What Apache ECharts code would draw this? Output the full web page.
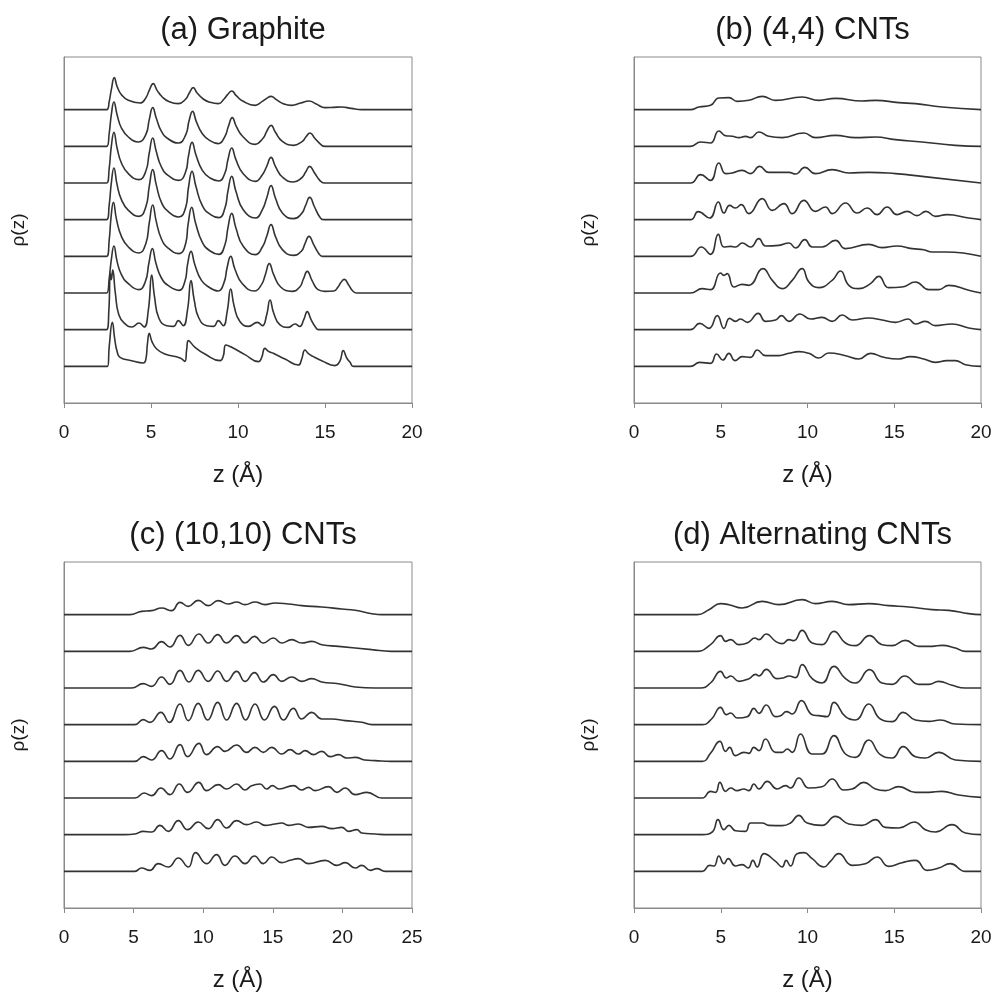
<!DOCTYPE html>
<html><head><meta charset="utf-8">
<script src="https://cdn.jsdelivr.net/npm/echarts@6/dist/echarts.min.js"></script>
<style>html,body{margin:0;padding:0;background:#fff}#c{width:997px;height:993px}</style>
</head><body><div id="c"></div>
<script>
// ---- Panel titles / axis labels ----
const panelTitles = ['(a) Graphite', '(b) (4,4) CNTs', '(c) (10,10) CNTs', '(d) Alternating CNTs'];
const xMaxes = [20, 20, 25, 20];
const xName = 'z (Å)';
const yName = 'ρ(z)';
// vertical offset between stacked profiles (arbitrary units of ρ)
const stackStep = 110;

// ---- (a) Graphite: 8 profiles, bottom (1) to top (8); [z (Å), ρ (a.u.)] ----
const graphite1 = [[0,0],[2.5,0],[2.6,60],[2.78,132],[2.92,80],[3.05,45],[3.22,27],[3.89,17],[4.56,10],[4.7,20],[4.8,70],[4.9,99],[5.05,75],[5.33,52],[5.8,37],[6.67,25],[6.95,15],[7.05,50],[7.15,77],[7.53,57],[8.1,37],[8.97,17],[9.15,30],[9.31,64],[9.64,57],[10.4,35],[11.17,14],[11.35,25],[11.55,54],[11.75,45],[12.03,39],[12.7,22],[13.47,4],[13.65,20],[13.85,49],[14.05,38],[14.33,29],[14.81,17],[15.57,2],[15.85,15],[16.05,47],[16.25,25],[16.44,12],[16.63,0],[20,0]];
const graphite2 = [[0,0],[2.45,0],[2.58,60],[2.66,170],[2.72,150],[2.8,179],[2.95,110],[3.15,45],[3.5,18],[3.9,8],[4.31,20],[4.6,8],[4.85,60],[5.04,164],[5.2,100],[5.45,35],[5.9,12],[6.3,10],[6.57,27],[6.85,12],[7.1,60],[7.3,147],[7.48,90],[7.75,35],[8.2,12],[8.6,10],[8.87,27],[9.15,12],[9.38,55],[9.58,122],[9.78,70],[10.1,25],[10.6,10],[11.11,22],[11.4,12],[11.65,45],[11.84,89],[12.05,50],[12.4,15],[12.9,7],[13.28,17],[13.55,10],[13.78,30],[13.98,54],[14.2,30],[14.45,8],[14.62,0],[20,0]];
const graphite3 = [[0,0],[2.45,0],[2.6,45],[2.72,100],[2.87,141],[3.05,95],[3.3,55],[3.7,28],[4.3,10],[4.68,35],[4.88,90],[5.08,133],[5.28,90],[5.6,45],[6.0,22],[6.6,8],[6.95,35],[7.1,85],[7.3,125],[7.52,85],[7.9,38],[8.4,15],[8.85,6],[9.2,32],[9.37,75],[9.58,110],[9.82,72],[10.25,28],[10.95,6],[11.35,25],[11.57,55],[11.8,88],[12.05,55],[12.45,18],[13.1,5],[13.55,18],[13.76,42],[13.98,65],[14.25,38],[14.6,10],[15.0,5],[15.5,6],[15.75,18],[15.92,32],[16.11,41],[16.35,25],[16.6,6],[16.82,0],[20,0]];
const graphite4 = [[0,0],[2.45,0],[2.6,50],[2.7,115],[2.84,162],[3.02,110],[3.3,60],[3.7,28],[4.3,10],[4.7,38],[4.9,100],[5.1,154],[5.3,105],[5.6,52],[6.0,24],[6.6,8],[7.0,40],[7.13,95],[7.34,147],[7.56,100],[7.95,42],[8.4,16],[8.9,6],[9.25,35],[9.42,85],[9.64,129],[9.88,85],[10.3,30],[11.0,5],[11.4,28],[11.65,60],[11.9,95],[12.15,60],[12.55,20],[13.18,3],[13.65,16],[13.85,38],[14.08,60],[14.35,35],[14.65,8],[14.85,0],[20,0]];
const graphite5 = [[0,0],[2.45,0],[2.6,45],[2.72,110],[2.87,155],[3.05,105],[3.3,60],[3.7,28],[4.3,10],[4.7,38],[4.9,100],[5.1,150],[5.3,105],[5.6,52],[6.0,24],[6.6,8],[7.0,38],[7.15,95],[7.36,145],[7.58,100],[7.95,42],[8.4,16],[8.9,6],[9.25,35],[9.42,85],[9.64,130],[9.88,85],[10.3,30],[11.0,5],[11.4,30],[11.65,65],[11.9,102],[12.15,65],[12.55,20],[13.18,3],[13.65,18],[13.88,42],[14.12,67],[14.4,38],[14.7,8],[14.9,0],[20,0]];
const graphite6 = [[0,0],[2.45,0],[2.6,45],[2.72,110],[2.87,152],[3.05,105],[3.3,60],[3.7,28],[4.3,10],[4.7,35],[4.9,90],[5.1,135],[5.3,95],[5.6,48],[6.0,22],[6.6,8],[7.0,35],[7.15,80],[7.36,122],[7.58,85],[7.95,38],[8.4,15],[8.9,6],[9.25,30],[9.42,70],[9.64,105],[9.88,70],[10.3,28],[11.0,5],[11.4,25],[11.65,50],[11.9,77],[12.15,50],[12.55,18],[13.18,3],[13.65,15],[13.88,32],[14.12,50],[14.4,30],[14.7,8],[14.95,0],[20,0]];
const graphite7 = [[0,0],[2.45,0],[2.6,40],[2.72,95],[2.87,133],[3.05,95],[3.3,55],[3.7,28],[4.27,13],[4.7,35],[4.9,80],[5.1,116],[5.3,85],[5.6,45],[6.0,22],[6.57,10],[7.0,35],[7.18,75],[7.39,105],[7.6,75],[7.95,38],[8.4,17],[8.87,8],[9.25,30],[9.45,60],[9.67,86],[9.9,60],[10.3,28],[10.98,6],[11.45,25],[11.65,45],[11.9,63],[12.15,42],[12.55,15],[13.18,3],[13.7,15],[13.9,28],[14.14,40],[14.4,25],[14.75,6],[15.0,0],[20,0]];
const graphite8 = [[0,0],[2.45,0],[2.6,25],[2.72,60],[2.89,96],[3.05,70],[3.3,45],[3.7,28],[4.37,20],[4.7,35],[4.9,58],[5.13,78],[5.35,58],[5.65,38],[6.0,25],[6.57,18],[7.0,32],[7.2,50],[7.43,66],[7.65,50],[8.0,32],[8.4,22],[8.87,18],[9.2,32],[9.4,45],[9.64,56],[9.9,42],[10.3,25],[10.98,13],[11.4,25],[11.65,34],[11.9,40],[12.2,30],[12.6,18],[13.08,13],[13.6,20],[14.08,26],[14.5,17],[15.0,6],[15.5,7],[15.96,8],[16.5,4],[17.1,0],[20,0]];

// ---- (b) (4,4) CNTs ----
const cnt44_1 = [[0,0],[3.26,0],[3.78,12],[4.41,9],[4.76,37],[5.12,19],[5.47,39],[5.82,17],[6.24,29],[6.72,27],[7.1,49],[7.58,32],[8.35,32],[8.93,39],[9.5,44],[10.08,39],[10.65,25],[11.23,40],[12.19,32],[12.96,22],[13.63,39],[14.4,27],[15.26,22],[15.93,29],[16.7,22],[17.37,12],[18.04,17],[18.52,17],[19.1,5],[20,0]];
const cnt44_2 = [[0,0],[3.26,0],[3.78,19],[4.32,4],[4.8,42],[5.18,4],[5.51,34],[5.85,25],[6.14,32],[6.53,22],[7.16,49],[7.58,25],[8.16,29],[8.5,42],[8.93,25],[9.56,47],[10.17,32],[10.84,37],[11.42,25],[12.0,44],[12.57,29],[13.53,35],[14.3,29],[15.07,22],[15.8,32],[16.22,17],[16.79,25],[17.37,12],[18.33,17],[19.29,5],[20,0]];
const cnt44_3 = [[0,0],[3.26,0],[3.93,13],[4.41,10],[4.99,60],[5.18,53],[5.37,58],[5.76,18],[6.24,26],[6.62,23],[7.43,73],[7.97,38],[8.54,13],[9.12,38],[9.69,73],[10.08,33],[10.65,16],[11.42,38],[11.9,66],[12.38,23],[12.96,13],[13.63,28],[14.11,50],[14.68,16],[15.45,18],[16.22,33],[16.99,10],[17.56,10],[18.14,23],[19.29,8],[20,0]];
const cnt44_4 = [[0,0],[3.26,0],[3.88,28],[4.41,6],[4.86,66],[5.18,28],[5.57,30],[5.85,28],[6.24,40],[6.72,28],[7.2,53],[7.58,31],[8.35,33],[8.93,40],[9.31,25],[9.85,50],[10.27,28],[10.84,28],[11.61,48],[12.19,23],[13.53,36],[14.3,26],[15.16,31],[16.03,23],[16.7,20],[17.18,13],[17.95,13],[20,0]];
const cnt44_5 = [[0,0],[3.26,0],[3.7,24],[4.36,5],[4.86,53],[5.18,20],[5.51,43],[5.85,35],[6.18,45],[6.62,18],[7.39,63],[7.97,28],[8.64,48],[9.12,18],[9.79,58],[10.46,25],[11.04,38],[11.42,18],[12.19,50],[12.86,20],[13.44,35],[14.01,15],[14.59,38],[15.16,15],[15.74,25],[16.31,12],[16.83,25],[17.37,10],[18.04,15],[19.29,5],[20,0]];
const cnt44_6 = [[0,0],[3.26,0],[3.84,25],[4.41,8],[4.89,60],[5.28,28],[5.66,30],[6.24,38],[6.72,28],[7.24,50],[7.77,32],[8.93,32],[9.31,27],[9.85,47],[10.46,28],[11.42,40],[12.38,30],[13.53,32],[15.07,28],[16.6,20],[20,0]];
const cnt44_7 = [[0,0],[3.26,0],[3.84,13],[4.41,10],[4.89,46],[5.28,32],[5.66,30],[6.05,26],[6.43,30],[6.72,26],[7.2,43],[7.77,30],[8.54,26],[9.79,40],[10.46,26],[11.61,33],[12.76,26],[13.92,28],[15.07,20],[16.6,13],[18.52,3],[20,0]];
const cnt44_8 = [[0,0],[3.26,0],[3.74,8],[4.41,13],[4.89,35],[5.47,36],[5.95,25],[6.62,28],[7.39,40],[8.16,28],[9.69,38],[10.65,28],[11.61,34],[13.15,26],[13.92,28],[15.26,21],[16.22,18],[17.75,8],[20,0]];

// ---- (c) (10,10) CNTs ----
const cnt1010_1 = [[0,0],[5.09,0],[5.57,10],[6.17,3],[6.77,23],[7.49,13],[8.21,40],[8.93,13],[9.45,56],[10.24,23],[10.96,50],[11.56,18],[12.28,46],[13.0,23],[13.68,46],[14.32,23],[14.92,43],[15.64,26],[16.24,33],[16.84,38],[17.56,23],[18.76,33],[19.6,18],[20.2,26],[20.92,10],[21.4,18],[22.0,3],[22.48,8],[23.08,0],[25,0]];
const cnt1010_2 = [[0,0],[4.37,0],[5.09,2],[5.69,10],[6.29,8],[6.89,28],[7.49,10],[8.21,42],[8.88,15],[9.64,38],[10.36,18],[11.04,45],[11.68,20],[12.4,42],[13.12,30],[13.84,38],[14.44,28],[15.16,32],[15.64,35],[16.12,28],[16.84,32],[17.56,22],[18.52,25],[19.24,18],[19.96,22],[20.44,10],[21.04,15],[21.4,5],[22.36,2],[23.32,0],[25,0]];
const cnt1010_3 = [[0,0],[5.09,0],[5.76,15],[6.29,7],[6.96,30],[7.61,10],[8.28,42],[8.88,17],[9.69,47],[10.24,22],[11.08,40],[11.68,27],[12.4,42],[13.0,24],[13.48,37],[14.08,42],[14.56,27],[14.97,37],[15.45,27],[16.48,37],[17.08,24],[17.56,32],[18.04,22],[19.0,34],[19.6,17],[20.2,30],[20.92,10],[21.76,17],[22.84,0],[25,0]];
const cnt1010_4 = [[0,0],[5.09,0],[5.69,14],[6.29,4],[7.01,32],[7.61,7],[8.33,50],[8.88,14],[9.69,54],[10.24,20],[11.04,44],[11.56,30],[12.4,49],[13.12,27],[13.72,42],[14.32,27],[14.92,42],[15.64,22],[16.24,35],[16.84,22],[17.32,32],[17.92,20],[18.52,30],[19.12,14],[19.72,20],[20.32,10],[20.92,12],[21.6,4],[22.36,2],[23.5,0],[25,0]];
const cnt1010_5 = [[0,0],[5.09,0],[5.69,15],[6.17,7],[6.96,37],[7.56,7],[8.33,62],[8.93,12],[9.64,64],[10.32,14],[11.04,67],[11.68,14],[12.4,64],[13.05,14],[13.72,62],[14.4,14],[15.12,55],[15.76,14],[16.48,49],[17.08,17],[17.8,37],[18.52,17],[19.24,17],[20.2,12],[21.4,7],[22.12,0],[25,0]];
const cnt1010_6 = [[0,0],[4.85,0],[5.69,13],[6.29,5],[7.01,33],[7.61,11],[8.33,53],[8.97,18],[9.64,53],[10.36,20],[11.04,51],[11.68,20],[12.4,50],[13.0,20],[13.68,46],[14.32,18],[15.04,40],[15.64,20],[16.36,33],[17.08,20],[17.8,28],[18.52,18],[19.72,13],[20.92,3],[22.36,0],[25,0]];
const cnt1010_7 = [[0,0],[4.73,0],[5.69,12],[6.29,7],[7.01,29],[7.61,13],[8.33,48],[8.93,18],[9.69,52],[10.36,25],[11.04,50],[11.68,25],[12.4,47],[13.0,25],[13.68,45],[14.32,25],[15.04,40],[15.64,25],[16.36,35],[17.08,25],[17.8,30],[18.52,20],[19.72,15],[22.12,5],[23.5,0],[25,0]];
const cnt1010_8 = [[0,0],[4.73,0],[5.57,10],[6.29,12],[7.01,20],[7.73,12],[8.33,37],[8.93,25],[9.64,43],[10.36,27],[11.08,42],[11.8,32],[12.4,38],[13.0,30],[13.72,38],[14.44,30],[15.16,35],[16.12,32],[17.08,27],[18.52,23],[19.96,17],[20.92,13],[22.12,3],[22.8,0],[25,0]];

// ---- (d) Alternating CNTs ----
const alt1 = [[0,0],[3.93,0],[4.36,18],[4.61,16],[4.89,46],[5.18,23],[5.43,38],[5.85,16],[6.24,20],[6.58,10],[6.85,33],[7.1,13],[7.49,53],[8.16,30],[8.54,13],[8.77,33],[9.02,16],[9.4,53],[9.79,56],[10.27,38],[10.94,13],[11.32,30],[11.8,53],[12.57,18],[13.34,23],[14.01,43],[14.68,15],[15.45,26],[16.22,33],[16.89,3],[17.56,10],[18.23,23],[19.1,0],[20,0]];
const alt2 = [[0,0],[3.93,0],[4.51,8],[4.84,45],[5.18,15],[5.47,28],[5.85,12],[6.43,10],[6.72,35],[7.39,35],[7.77,28],[8.54,27],[9.02,35],[9.5,58],[9.98,35],[10.84,28],[11.61,55],[12.38,32],[13.15,28],[13.92,45],[14.49,22],[15.26,20],[16.16,38],[16.79,15],[17.37,8],[18.33,30],[19.1,5],[20,0]];
const alt3 = [[0,0],[3.93,0],[4.41,20],[4.7,17],[4.95,47],[5.28,20],[5.57,30],[5.95,22],[6.33,27],[6.62,22],[6.91,42],[7.2,27],[7.68,50],[8.25,27],[8.73,37],[9.02,30],[9.5,60],[10.08,30],[10.84,34],[11.42,57],[12.09,24],[12.57,27],[13.24,47],[13.92,27],[14.49,22],[15.26,34],[16.22,17],[16.99,17],[17.75,20],[18.71,9],[20,2]];
const alt4 = [[0,0],[3.93,0],[4.41,24],[4.95,60],[5.28,30],[5.51,42],[5.85,17],[6.33,27],[6.62,24],[6.91,42],[7.2,32],[7.58,67],[8.16,27],[8.54,27],[8.83,37],[9.12,27],[9.6,82],[10.27,22],[10.84,22],[11.52,77],[12.19,22],[12.76,12],[13.53,64],[14.2,20],[14.88,10],[15.51,44],[16.22,14],[16.79,10],[17.56,27],[18.52,4],[20,0]];
const alt5 = [[0,0],[3.93,0],[4.47,17],[4.99,52],[5.32,30],[5.57,35],[5.95,20],[6.53,24],[6.91,49],[7.2,34],[7.62,59],[8.16,24],[8.45,27],[8.79,39],[9.12,32],[9.65,72],[10.27,30],[10.65,27],[11.13,24],[11.52,67],[12.19,24],[12.76,14],[13.53,62],[14.2,17],[14.88,9],[15.51,37],[16.22,14],[16.99,10],[17.66,14],[18.52,2],[20,0]];
const alt6 = [[0,0],[3.84,0],[4.41,15],[4.99,50],[5.32,30],[5.57,36],[6.05,20],[6.62,28],[7.01,41],[7.2,36],[7.62,56],[8.25,28],[8.64,31],[8.93,36],[9.31,31],[9.69,70],[10.27,28],[10.84,15],[11.52,65],[12.19,28],[12.76,15],[13.57,55],[14.3,15],[14.88,11],[15.6,36],[16.41,11],[16.99,11],[17.56,20],[18.33,8],[19.1,0],[20,0]];
const alt7 = [[0,0],[3.65,0],[4.41,20],[4.99,47],[5.28,30],[5.57,35],[6.05,20],[6.53,25],[6.97,40],[7.2,35],[7.62,52],[8.16,30],[8.54,23],[8.93,35],[9.21,32],[9.69,63],[10.27,25],[10.84,20],[11.52,60],[12.19,25],[12.76,17],[13.57,47],[14.3,20],[14.88,17],[15.64,33],[16.41,15],[17.18,15],[17.75,18],[18.52,10],[19.1,0],[20,0]];
const alt8 = [[0,0],[3.65,0],[4.32,15],[4.99,33],[5.47,30],[6.24,20],[7.39,40],[8.35,30],[9.69,45],[10.46,33],[11.42,40],[12.38,30],[13.53,33],[14.68,27],[15.84,23],[17.18,15],[18.14,13],[19.29,3],[20,0]];

const panelCurves = [
  [graphite1, graphite2, graphite3, graphite4, graphite5, graphite6, graphite7, graphite8],
  [cnt44_1, cnt44_2, cnt44_3, cnt44_4, cnt44_5, cnt44_6, cnt44_7, cnt44_8],
  [cnt1010_1, cnt1010_2, cnt1010_3, cnt1010_4, cnt1010_5, cnt1010_6, cnt1010_7, cnt1010_8],
  [alt1, alt2, alt3, alt4, alt5, alt6, alt7, alt8]
];

// ---- layout (pixels) ----
const FONT = '"Liberation Sans", Arial, sans-serif';
const grids = [
  {left: 64, top: 57, width: 348, height: 346},
  {left: 634, top: 57, width: 347, height: 346},
  {left: 64, top: 562, width: 348, height: 346},
  {left: 634, top: 562, width: 347, height: 346}
];
const yTop = 1038;
const axisGray = '#8a8a8a';

const option = {
  animation: false,
  backgroundColor: '#fff',
  title: grids.map((g, i) => ({
    text: panelTitles[i],
    left: g.left + g.width / 2,
    top: g.top - 47,
    textAlign: 'center',
    textStyle: {fontFamily: FONT, fontSize: 31, fontWeight: 'normal', color: '#1a1a1a'}
  })),
  grid: grids.map(g => Object.assign({show: true, borderColor: axisGray, borderWidth: 1, backgroundColor: 'transparent'}, g)),
  xAxis: grids.map((g, i) => ({
    gridIndex: i, type: 'value', min: 0, max: xMaxes[i], interval: 5,
    name: xName, nameLocation: 'middle', nameGap: 60,
    nameTextStyle: {fontFamily: FONT, fontSize: 24, color: '#1a1a1a'},
    axisLine: {show: true, lineStyle: {color: axisGray, width: 1}},
    axisTick: {show: true, inside: false, length: 5, lineStyle: {color: axisGray}},
    axisLabel: {margin: 20, fontFamily: FONT, fontSize: 19, color: '#1a1a1a'},
    splitLine: {show: false}
  })),
  yAxis: grids.map((g, i) => ({
    gridIndex: i, type: 'value', min: 0, max: yTop,
    name: yName, nameLocation: 'middle', nameGap: 36,
    nameTextStyle: {fontFamily: FONT, fontSize: 19, color: '#1a1a1a'},
    axisLine: {show: true, lineStyle: {color: axisGray}},
    axisTick: {show: false}, axisLabel: {show: false}, splitLine: {show: false}
  })),
  series: []
};

panelCurves.forEach((curves, p) => {
  curves.forEach((curve, k) => {
    const off = (k + 1) * stackStep;
    option.series.push({
      type: 'line', xAxisIndex: p, yAxisIndex: p,
      data: curve.map(([z, r]) => [z, r + off]),
      showSymbol: false, symbol: 'none', smooth: 0.5,
      lineStyle: {color: '#333', width: 1.6},
      silent: true
    });
  });
});

const chart = echarts.init(document.getElementById('c'), null, {renderer: 'canvas'});
chart.setOption(option);
</script>
</body></html>
